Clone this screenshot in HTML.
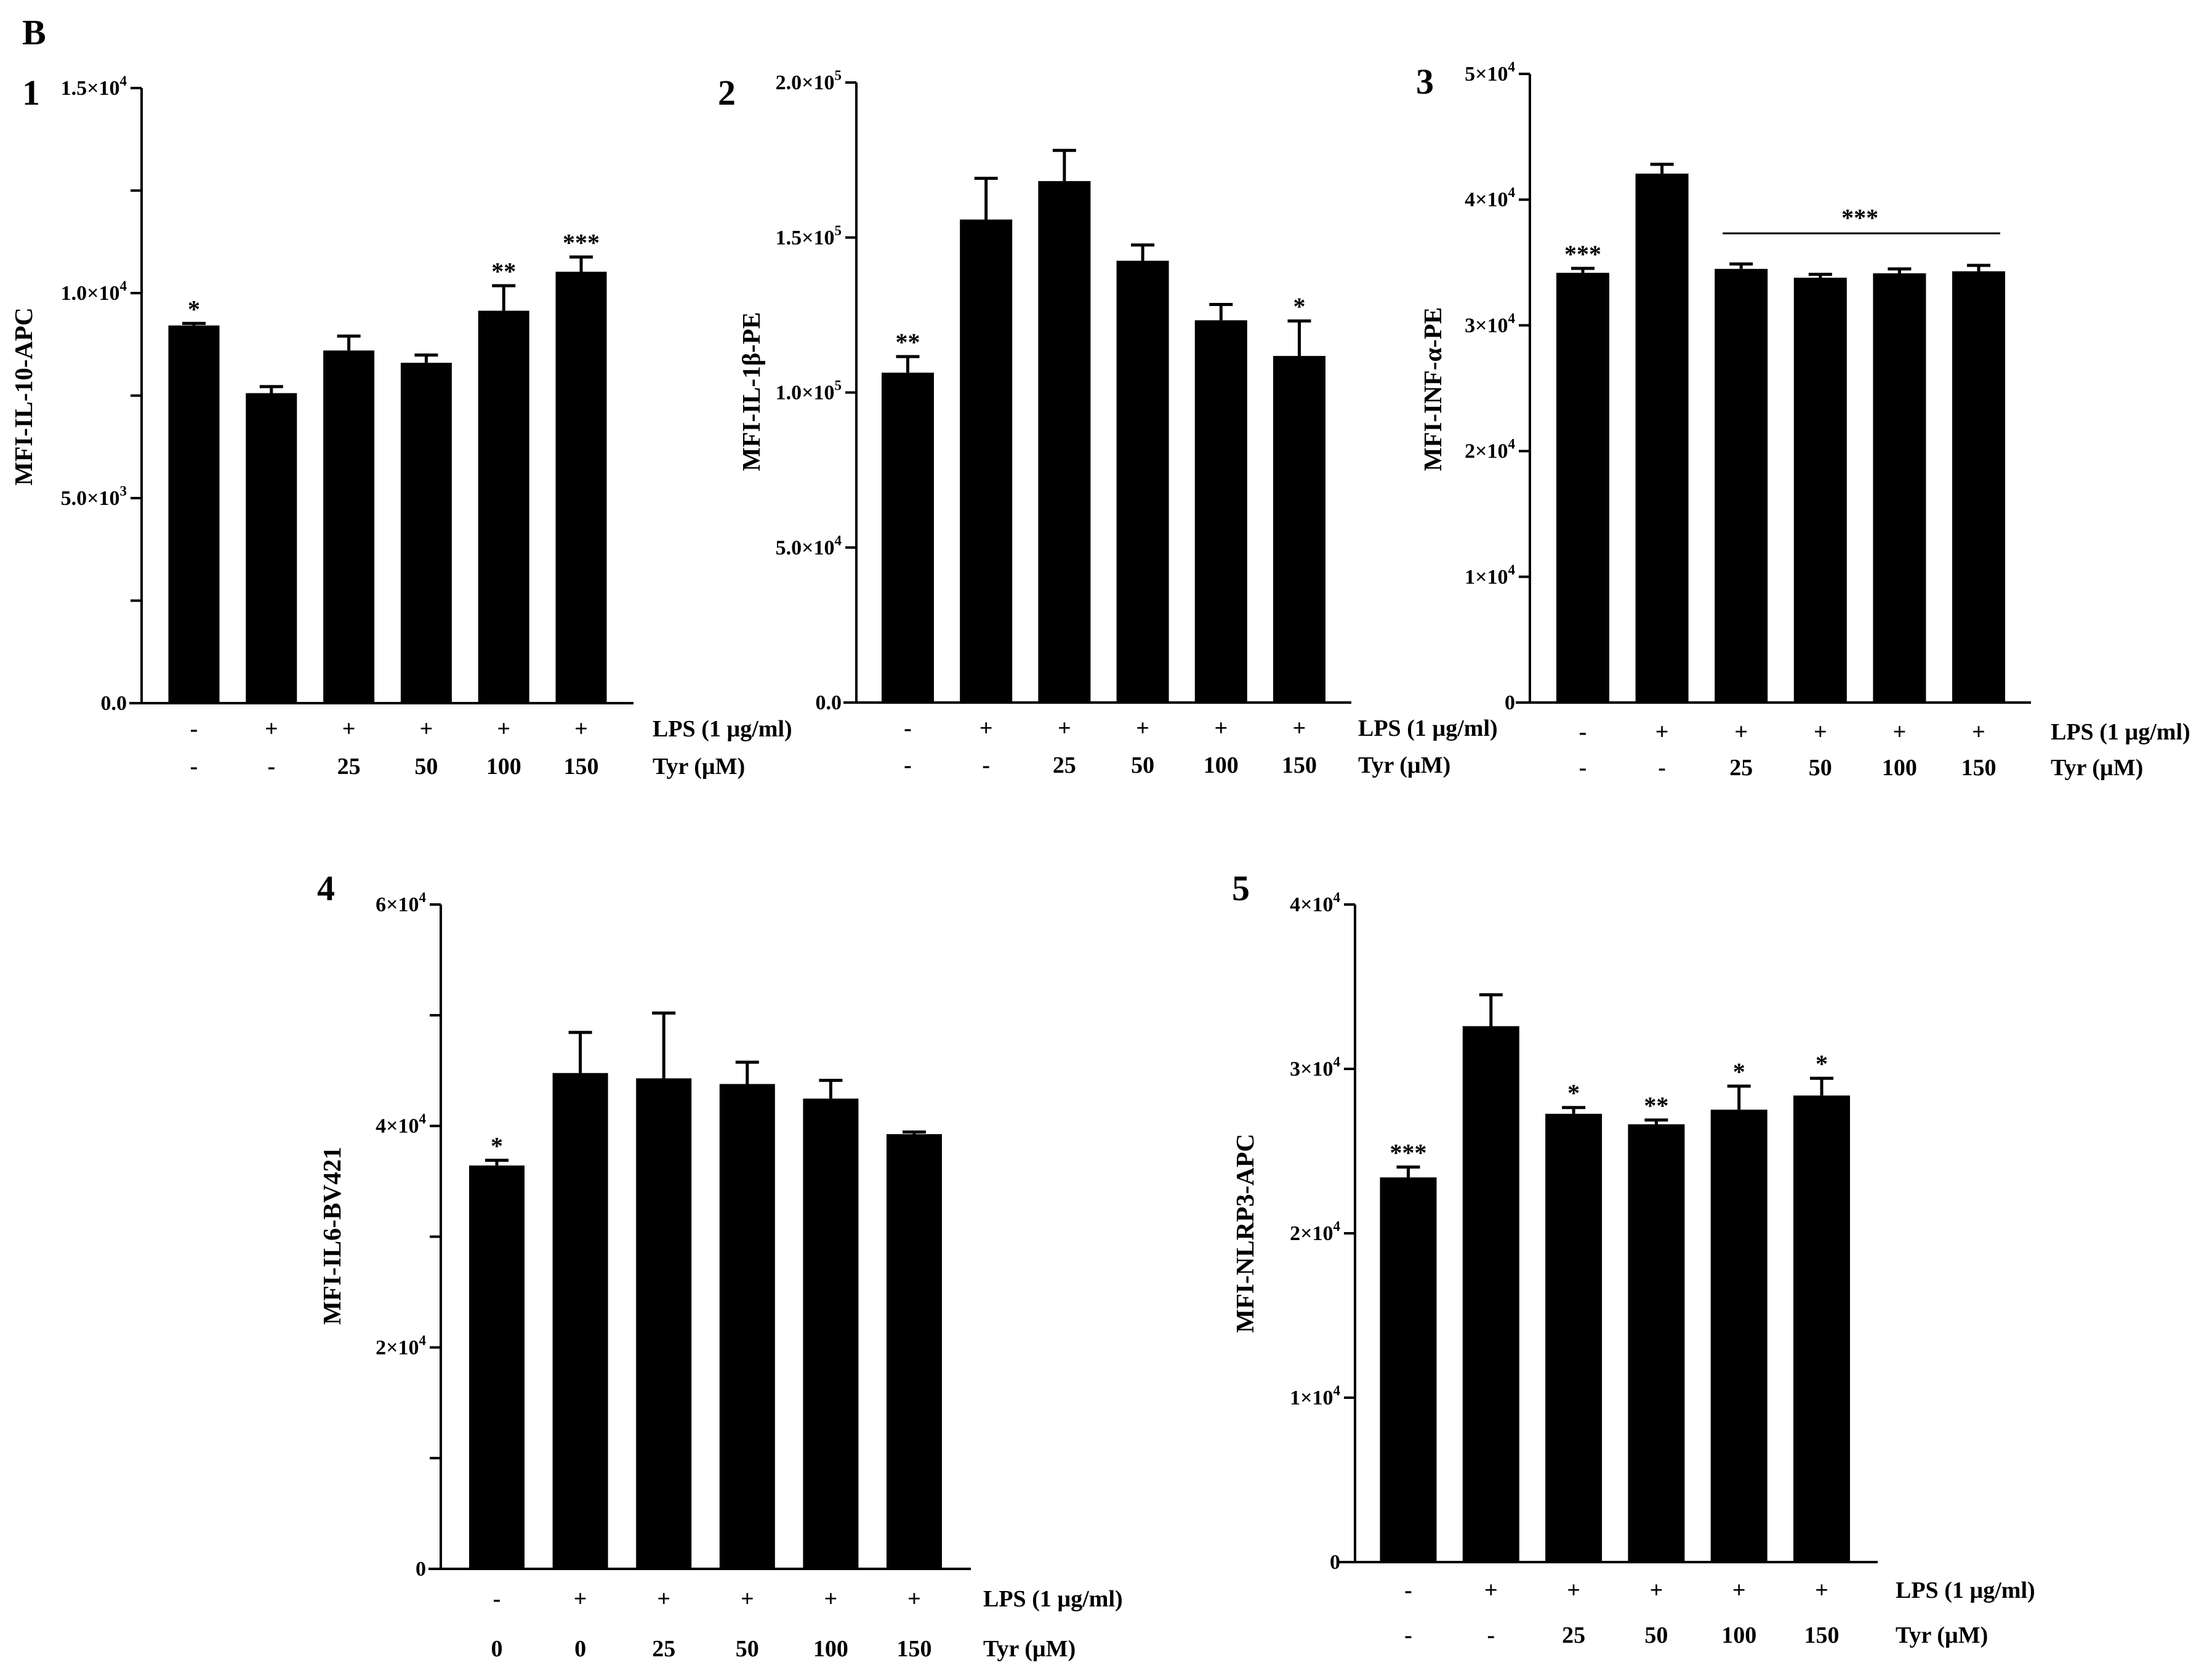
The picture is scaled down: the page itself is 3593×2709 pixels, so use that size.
<!DOCTYPE html>
<html><head><meta charset="utf-8"><style>
html,body{margin:0;padding:0;background:#fff}
svg{display:block}
text{font-family:"Liberation Serif",serif;font-weight:bold;fill:#000}
</style></head><body>
<svg id="fig" width="3593" height="2709" viewBox="0 0 3593 2709" xmlns="http://www.w3.org/2000/svg">
<text x="36" y="72" font-size="58">B</text>
</svg>
<script>
const lpsRow = ["-","+","+","+","+","+"];
const tyrRowA = ["-","-","25","50","100","150"];
const tyrRowB = ["0","0","25","50","100","150"];

const il10Values = [9210, 7560, 8600, 8300, 9570, 10520];
const il10Errors = [50, 160, 350, 190, 610, 360];
const il10Sig = ["*","","","","**","***"];

const il1bValues = [106400, 155800, 168200, 142500, 123300, 111800];
const il1bErrors = [5200, 13300, 9900, 5100, 5100, 11300];
const il1bSig = ["**","","","","","*"];

const tnfValues = [34180, 42070, 34490, 33790, 34140, 34300];
const tnfErrors = [350, 740, 390, 270, 350, 470];
const tnfSig = ["***","","","","",""];

const il6Values = [36430, 44780, 44300, 43790, 42470, 39260];
const il6Errors = [470, 3670, 5900, 1970, 1650, 190];
const il6Sig = ["*","","","","",""];

const nlrpValues = [23400, 32600, 27270, 26630, 27520, 28380];
const nlrpErrors = [630, 1910, 380, 260, 1430, 1050];
const nlrpSig = ["***","","*","**","*","*"];

const il10Ticks = [0, 2500, 5000, 7500, 10000, 12500, 15000];
const il10TickLabels = [["0.0",""],null,["5.0×10","3"],null,["1.0×10","4"],null,["1.5×10","4"]];
const il1bTicks = [0, 50000, 100000, 150000, 200000];
const il1bTickLabels = [["0.0",""],["5.0×10","4"],["1.0×10","5"],["1.5×10","5"],["2.0×10","5"]];
const tnfTicks = [0, 10000, 20000, 30000, 40000, 50000];
const tnfTickLabels = [["0",""],["1×10","4"],["2×10","4"],["3×10","4"],["4×10","4"],["5×10","4"]];
const il6Ticks = [0, 10000, 20000, 30000, 40000, 50000, 60000];
const il6TickLabels = [["0",""],null,["2×10","4"],null,["4×10","4"],null,["6×10","4"]];
const nlrpTicks = [0, 10000, 20000, 30000, 40000];
const nlrpTickLabels = [["0",""],["1×10","4"],["2×10","4"],["3×10","4"],["4×10","4"]];

const NS = "http://www.w3.org/2000/svg";
const svg = document.getElementById("fig");
function mk(tag, attrs, parent){
  const e = document.createElementNS(NS, tag);
  for (const k in attrs) e.setAttribute(k, attrs[k]);
  (parent||svg).appendChild(e);
  return e;
}

const panels = [
 {id:"il10", num:"1", numX:36, numY:170, title:"MFI-IL-10-APC", titleX:52, titleY:644,
  axisX:230, top:143, zero:1142, xs:210, xe:1029, c0:315, step:125.8, w:83, lblX:1060, r1:1183, r2:1244,
  max:15000, vals:il10Values, errs:il10Errors, sig:il10Sig, ticks:il10Ticks, tl:il10TickLabels, tyr:tyrRowA},
 {id:"il1b", num:"2", numX:1166, numY:170, title:"MFI-IL-1β-PE", titleX:1234, titleY:636,
  axisX:1391, top:134, zero:1141, xs:1370, xe:2195, c0:1474.5, step:127.2, w:85, lblX:2206, r1:1182, r2:1242,
  max:200000, vals:il1bValues, errs:il1bErrors, sig:il1bSig, ticks:il1bTicks, tl:il1bTickLabels, tyr:tyrRowA},
 {id:"tnf", num:"3", numX:2300, numY:152, title:"MFI-INF-α-PE", titleX:2341, titleY:632,
  axisX:2485, top:120, zero:1141, xs:2462, xe:3299, c0:2571, step:128.6, w:86, lblX:3331, r1:1188, r2:1246,
  max:50000, vals:tnfValues, errs:tnfErrors, sig:tnfSig, ticks:tnfTicks, tl:tnfTickLabels, tyr:tyrRowA, bracket:[2,5,379]},
 {id:"il6", num:"4", numX:515, numY:1462, title:"MFI-IL6-BV421", titleX:553, titleY:2007,
  axisX:716, top:1469, zero:2548, xs:696, xe:1577, c0:807, step:135.6, w:90, lblX:1597, r1:2596, r2:2677,
  max:60000, vals:il6Values, errs:il6Errors, sig:il6Sig, ticks:il6Ticks, tl:il6TickLabels, tyr:tyrRowB},
 {id:"nlrp3", num:"5", numX:2001, numY:1462, title:"MFI-NLRP3-APC", titleX:2036, titleY:2003,
  axisX:2201, top:1469, zero:2537, xs:2175, xe:3050, c0:2287.5, step:134.3, w:92, lblX:3079, r1:2582, r2:2655,
  max:40000, vals:nlrpValues, errs:nlrpErrors, sig:nlrpSig, ticks:nlrpTicks, tl:nlrpTickLabels, tyr:tyrRowA}
];

panels.forEach(p => {
  const g = mk("g", {});
  
  
  const y = v => p.zero - (v / p.max) * (p.zero - p.top);
  const x = i => p.c0 + i * p.step;

  const num = mk("text", {x:p.numX, y:p.numY, "font-size":58}, g);
  num.textContent = p.num;
  
  

  const t = mk("text", {x:p.titleX, y:p.titleY, "font-size":41, "text-anchor":"middle", transform:`rotate(-90 ${p.titleX} ${p.titleY})`}, g);
  t.textContent = p.title;
  
  

  p.vals.forEach((v, i) => {
    const cx = x(i), top = y(v), et = y(v + p.errs[i]);
    const b = mk("rect", {x:cx - p.w/2, y:top, width:p.w, height:p.zero - top, fill:"#000"}, g);
    
    
    const e = mk("path", {d:`M${cx} ${top} V${et} M${cx-19} ${et} H${cx+19}`, stroke:"#000", "stroke-width":5, fill:"none"}, g);
    
    
    if (p.sig[i]) {
      const s = mk("text", {x:cx, y:et - 10, "font-size":40, "text-anchor":"middle"}, g);
      s.textContent = p.sig[i];
      
      
    }
    const l = mk("text", {x:cx, y:p.r1 + 13, "font-size":38, "text-anchor":"middle"}, g);
    l.textContent = lpsRow[i];
    
    
    const d = mk("text", {x:cx, y:p.r2 + 13, "font-size":38, "text-anchor":"middle"}, g);
    d.textContent = p.tyr[i];
    
    
  });

  if (p.bracket) {
    const [a, b2, by] = p.bracket;
    const ln = mk("line", {x1:x(a) - 30, x2:x(b2) + 35, y1:by, y2:by, stroke:"#000", "stroke-width":3}, g);
    
    
    const st = mk("text", {x:(x(a) + x(b2)) / 2, y:by - 12, "font-size":40, "text-anchor":"middle"}, g);
    st.textContent = "***";
    
    
  }

  const ya = mk("line", {x1:p.axisX, x2:p.axisX, y1:p.top, y2:p.zero, stroke:"#000", "stroke-width":4}, g);
  
  
  const xa = mk("line", {x1:p.xs, x2:p.xe, y1:p.zero, y2:p.zero, stroke:"#000", "stroke-width":4}, g);
  
  

  p.ticks.forEach((tv, i) => {
    const ty = y(tv);
    const tk = mk("line", {x1:p.axisX - 18, x2:p.axisX, y1:ty, y2:ty, stroke:"#000", "stroke-width":4}, g);
    
    
    const lab = p.tl[i];
    if (lab) {
      const tt = mk("text", {x:p.axisX - 24, y:ty + 11, "font-size":34, "text-anchor":"end"}, g);
      
      
      const s1 = mk("tspan", {}, tt); s1.textContent = lab[0];
      if (lab[1]) { const s2 = mk("tspan", {dy:-15, "font-size":23}, tt); s2.textContent = lab[1]; }
    }
  });

  const L1 = mk("text", {x:p.lblX, y:p.r1 + 13, "font-size":38}, g);
  L1.textContent = "LPS (1 µg/ml)";
  
  
  const L2 = mk("text", {x:p.lblX, y:p.r2 + 13, "font-size":38}, g);
  L2.textContent = "Tyr (µM)";
  
  
});
</script>
</body></html>
